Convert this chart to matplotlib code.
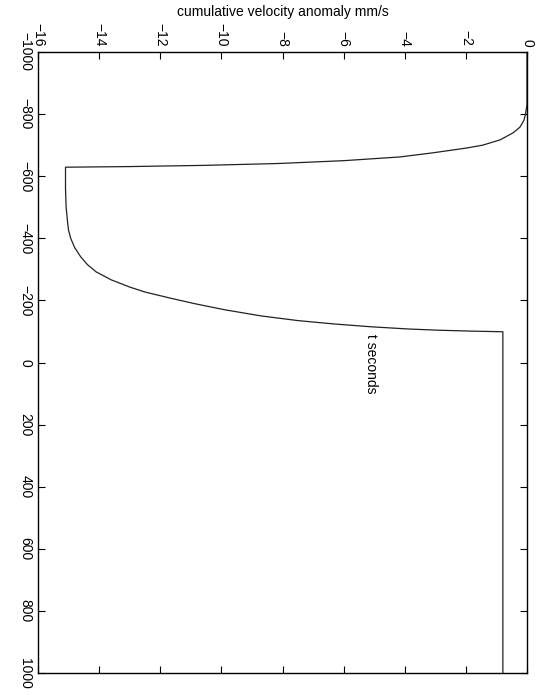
import matplotlib
matplotlib.use("Agg")
import matplotlib.pyplot as plt

# data read from the (rotated) reference: time in seconds, cumulative velocity anomaly mm/s
t_seconds = [-1000, -830, -800, -780, -758, -740, -717, -700, -691, -675, -662, -650,
             -641, -635, -631, -629, -560, -500, -450, -426, -400, -370, -340, -315,
             -292, -266, -243, -227, -208, -190, -170, -150, -135, -124, -115, -108,
             -104, -101, -99, 1000]
velocity = [0, 0, -0.05, -0.1, -0.23, -0.45, -0.88, -1.45, -1.96, -3.1, -4.16, -6.0,
            -8.1, -10.5, -13.0, -15.1, -15.1, -15.08, -15.03, -15.0, -14.93, -14.8, -14.6, -14.38,
            -14.1, -13.6, -13.0, -12.5, -11.7, -10.9, -9.9, -8.7, -7.5, -6.3, -5.1, -3.9,
            -2.9, -1.8, -0.79, -0.79]

v_ticks = [-16, -14, -12, -10, -8, -6, -4, -2, 0]
t_ticks = [-1000, -800, -600, -400, -200, 0, 200, 400, 600, 800, 1000]

plt.rcParams['font.family'] = ['Liberation Sans', 'DejaVu Sans']

W, H = 542, 695
fig = plt.figure(figsize=(W / 100, H / 100), dpi=100)
left, right, top, bottom = 38, 527, 52, 673
ax = fig.add_axes([left / W, 1 - bottom / H, (right - left) / W, (bottom - top) / H])

ax.plot(velocity, t_seconds, color='#222222', lw=0.9)
ax.set_xlim(-16, 0)
ax.set_ylim(1000, -1000)

ax.set_xticks(v_ticks)
ax.set_yticks(t_ticks)
ax.set_xticklabels([f"\u2212{abs(v)}" if v < 0 else f"{v}" for v in v_ticks], rotation=-90, fontsize=10)
ax.set_yticklabels([f"\u2212{abs(t)}" if t < 0 else f"{t}" for t in t_ticks], rotation=-90, fontsize=10,
                   va='center')
ax.tick_params(axis='x', which='both', direction='in', top=True, bottom=True,
               labeltop=True, labelbottom=False, length=5, width=0.8, pad=4)
ax.tick_params(axis='y', which='both', direction='in', left=True, right=True,
               labelleft=True, labelright=False, length=5, width=0.8, pad=4)
for s in ax.spines.values():
    s.set_linewidth(1.0)
    s.set_color('black')

fig.text((left + right) / 2 / W, 1 - 12 / H, "cumulative velocity anomaly mm/s",
         ha='center', va='center', fontsize=10)
fig.text(371 / W, 1 - 364 / H, "t seconds", ha='center', va='center', rotation=-90, fontsize=10)

fig.savefig("out.png", dpi=100)
